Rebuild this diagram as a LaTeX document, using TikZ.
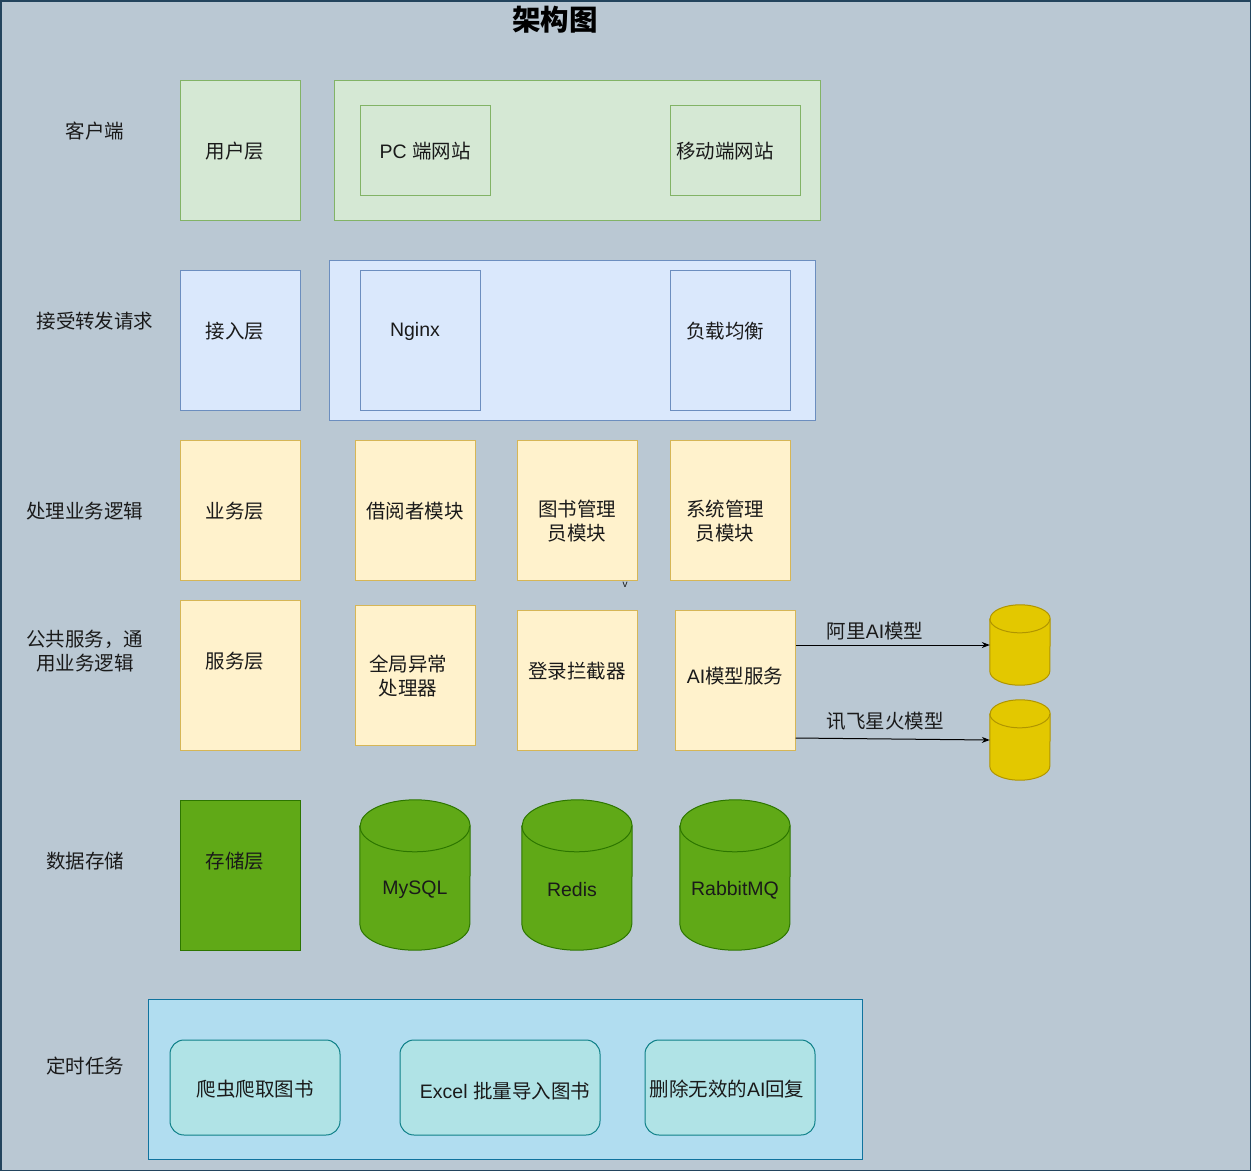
\documentclass[tikz,border=0pt]{standalone}
\usepackage{fontspec}
\setmainfont{Liberation Sans}
\newfontfamily\cjkfont{Noto Sans CJK SC}
\newfontfamily\latfont{Liberation Sans}
\XeTeXinterchartokenstate=1
\newXeTeXintercharclass\cjkclass
\makeatletter
\count@="4E00
\loop\XeTeXcharclass\count@=\cjkclass\advance\count@ 1 \ifnum\count@<"A000 \repeat
\count@="FF00
\loop\XeTeXcharclass\count@=\cjkclass\advance\count@ 1 \ifnum\count@<"FFF0 \repeat
\count@="3000
\loop\XeTeXcharclass\count@=\cjkclass\advance\count@ 1 \ifnum\count@<"3040 \repeat
\makeatother
\XeTeXinterchartoks 0 \cjkclass = {\cjkfont}
\XeTeXinterchartoks 4095 \cjkclass = {\cjkfont}
\XeTeXinterchartoks \cjkclass 0 = {\latfont}
\usetikzlibrary{arrows.meta,calc}
\definecolor{bgc}{HTML}{BAC8D3}
\definecolor{bgd}{HTML}{23445D}
\definecolor{gfill}{HTML}{D5E8D4}
\definecolor{gdraw}{HTML}{82B366}
\definecolor{bfill}{HTML}{DAE8FC}
\definecolor{bdraw}{HTML}{6C8EBF}
\definecolor{yfill}{HTML}{FFF2CC}
\definecolor{ydraw}{HTML}{D6B656}
\definecolor{sfill}{HTML}{60A917}
\definecolor{sdraw}{HTML}{2D7600}
\definecolor{gofill}{HTML}{E3C800}
\definecolor{godraw}{HTML}{B09500}
\definecolor{cfill}{HTML}{B1DDF0}
\definecolor{cdraw}{HTML}{10739E}
\definecolor{tfill}{HTML}{B0E3E6}
\definecolor{tdraw}{HTML}{0E8088}
\definecolor{txtc}{HTML}{1A1A1A}
\tikzset{
  greenbox/.style={draw=gdraw, fill=gfill, line width=1pt, inner sep=0pt},
  bluebox/.style={draw=bdraw, fill=bfill, line width=1pt, inner sep=0pt},
  yellowbox/.style={draw=ydraw, fill=yfill, line width=1pt, inner sep=0pt},
  storebox/.style={draw=sdraw, fill=sfill, line width=1pt, inner sep=0pt},
  cronbox/.style={draw=cdraw, fill=cfill, line width=1pt, inner sep=0pt},
  taskbox/.style={draw=tdraw, fill=tfill, line width=1pt, inner sep=0pt, rounded corners=14pt},
  txt/.style={font=\fontsize{19.5}{24}\selectfont, text=txtc, align=center, inner sep=0pt},
  side/.style={font=\fontsize{19.5}{24}\selectfont, text=txtc, align=center, inner sep=0pt},
  arr/.style={line width=1pt, -{Stealth[length=8pt,width=6pt]}},
}
\newcommand\mycyl[9]{%
  \node[minimum width=#4pt, minimum height=#5pt, inner sep=0pt] (#1) at (#2,#3) {};
  \filldraw[line width=1pt, #7] ([yshift=-#6pt]#1.north west) -- ([yshift=#6pt]#1.south west)
    arc[start angle=180, end angle=360, x radius=#4*0.5pt, y radius=#6pt]
    -- ([yshift=-#6pt]#1.north east)
    arc[start angle=0, end angle=180, x radius=#4*0.5pt, y radius=#6pt] -- cycle;
  \draw[line width=1pt, #7, fill=none] ([yshift=-#6pt]#1.north west)
    arc[start angle=180, end angle=360, x radius=#4*0.5pt, y radius=#6pt];
  \node[txt] (#1t) at (#9,#3+15) {#8};
}
\begin{document}
\begin{tikzpicture}[x=1pt,y=-1pt]
\useasboundingbox (0,0) rectangle (1251,1171);
\path[draw=bgd, fill=bgc, line width=1.5pt] (0.75,0.75) rectangle (1250.25,1170.25);

\node[font=\fontsize{28.5}{32}\selectfont\bfseries, text=black, inner sep=0pt] (title) at (555,20) {架构图};

% side labels
\node[side] (l1) at (95,131) {客户端};
\node[side] (l2) at (95,321) {接受转发请求};
\node[side] (l3) at (85,511) {处理业务逻辑};
\node[side] (l4) at (85,651) {公共服务，通\\用业务逻辑};
\node[side] (l5) at (85,861) {数据存储};
\node[side] (l6) at (85,1066) {定时任务};

% row 1
\node[greenbox, minimum width=120pt, minimum height=140pt] (user) at (240,150) {};
\node[txt] (usert) at (235,151) {用户层};
\node[greenbox, minimum width=486pt, minimum height=140pt] (client) at (577,150) {};
\node[greenbox, minimum width=130pt, minimum height=90pt] (pc) at (425,150) {};
\node[txt] (pct) at (425,151) {PC 端网站};
\node[greenbox, minimum width=130pt, minimum height=90pt] (mob) at (735,150) {};
\node[txt] (mobt) at (725,151) {移动端网站};

% row 2
\node[bluebox, minimum width=120pt, minimum height=140pt] (acc) at (240,340) {};
\node[txt] (acct) at (235,331) {接入层};
\node[bluebox, minimum width=486pt, minimum height=160pt] (gw) at (572,340) {};
\node[bluebox, minimum width=120pt, minimum height=140pt] (ngx) at (420,340) {};
\node[txt] (ngxt) at (415,331) {Nginx};
\node[bluebox, minimum width=120pt, minimum height=140pt] (lb) at (730,340) {};
\node[txt] (lbt) at (725,331) {负载均衡};

% row 3
\node[yellowbox, minimum width=120pt, minimum height=140pt] (biz) at (240,510) {};
\node[txt] (bizt) at (235,511) {业务层};
\node[yellowbox, minimum width=120pt, minimum height=140pt] (bor) at (415,510) {};
\node[txt] (bort) at (415,511) {借阅者模块};
\node[yellowbox, minimum width=120pt, minimum height=140pt] (lib) at (577,510) {};
\node[txt] (libt) at (577,521) {图书管理\\员模块};
\node[yellowbox, minimum width=120pt, minimum height=140pt] (sys) at (730,510) {};
\node[txt] (syst) at (725,521) {系统管理\\员模块};
\node[font=\fontsize{10}{12}\selectfont, text=txtc, inner sep=0pt] (vmark) at (625,585) {v};

% row 4
\node[yellowbox, minimum width=120pt, minimum height=150pt] (srv) at (240,675) {};
\node[txt] (srvt) at (235,661) {服务层};
\node[yellowbox, minimum width=120pt, minimum height=140pt] (exc) at (415,675) {};
\node[txt] (exct) at (408,676) {全局异常\\处理器};
\node[yellowbox, minimum width=120pt, minimum height=140pt] (login) at (577,680) {};
\node[txt] (logint) at (577,671) {登录拦截器};
\node[yellowbox, minimum width=120pt, minimum height=140pt] (ai) at (735,680) {};
\node[txt] (ait) at (735,676) {AI模型服务};

\mycyl{cyA}{1020}{645}{60}{80}{14}{draw=godraw, fill=gofill}{}{1020}
\mycyl{cyB}{1020}{740}{60}{80}{14}{draw=godraw, fill=gofill}{}{1020}
\draw[arr] ([yshift=35pt]ai.east) -- (cyA.west);
\draw[arr] ([yshift=-58pt]ai.east) -- (cyB.west);
\node[txt] (alit) at (875,631) {阿里AI模型};
\node[txt] (xft) at (885,721) {讯飞星火模型};

% row 5
\node[storebox, minimum width=120pt, minimum height=150pt] (store) at (240,875) {};
\node[txt] (storet) at (235,861) {存储层};
\mycyl{mysql}{415}{875}{110}{150}{26}{draw=sdraw, fill=sfill}{MySQL}{415}
\mycyl{redis}{577}{875}{110}{150}{26}{draw=sdraw, fill=sfill}{Redis}{572}
\mycyl{rabbit}{735}{875}{110}{150}{26}{draw=sdraw, fill=sfill}{RabbitMQ}{735}

% row 6
\node[cronbox, minimum width=714pt, minimum height=160pt] (cron) at (505,1079) {};
\node[taskbox, minimum width=170pt, minimum height=95pt] (spider) at (255,1087.5) {};
\node[txt] (spidert) at (255,1089) {爬虫爬取图书};
\node[taskbox, minimum width=200pt, minimum height=95pt] (excel) at (500,1087.5) {};
\node[txt] (excelt) at (505,1091) {Excel 批量导入图书};
\node[taskbox, minimum width=170pt, minimum height=95pt] (del) at (730,1087.5) {};
\node[txt] (delt) at (727,1089) {删除无效的AI回复};
\end{tikzpicture}
\end{document}
